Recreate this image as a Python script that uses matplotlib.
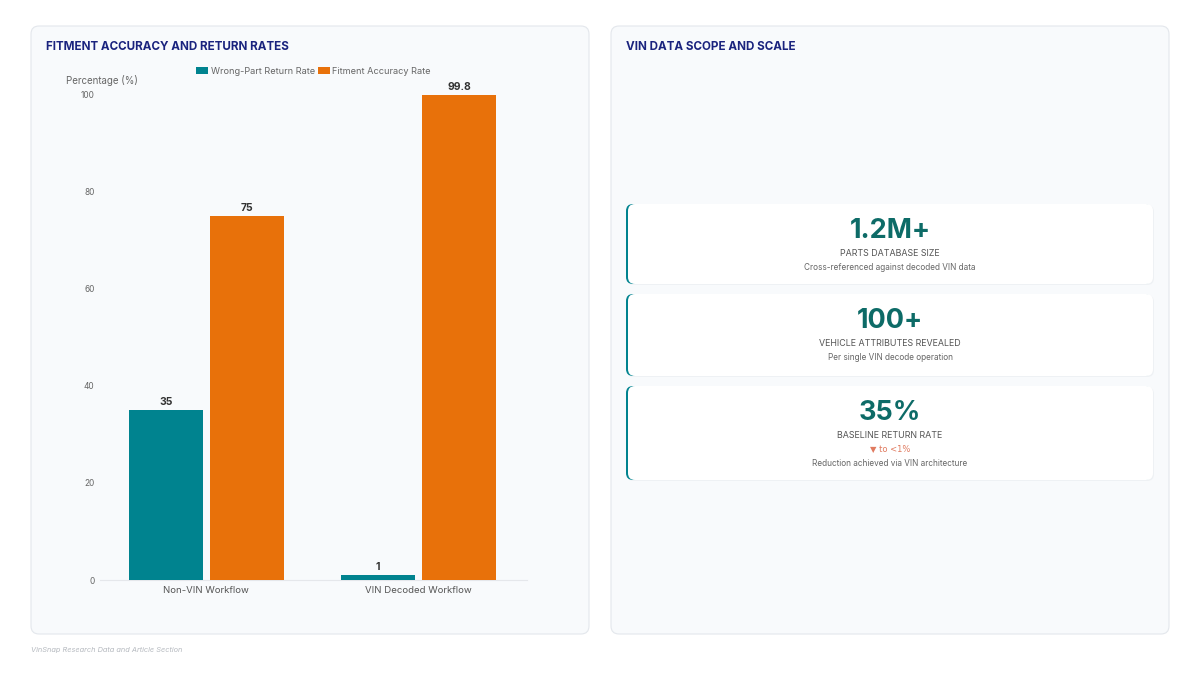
import matplotlib.pyplot as plt
from matplotlib.patches import FancyBboxPatch, Patch

## Datos del gráfico
categorias = ["Non-VIN Workflow", "VIN Decoded Workflow"]
retorno = [35, 1]            # Wrong-Part Return Rate
precision = [75, 99.8]       # Fitment Accuracy Rate
series = ["Wrong-Part Return Rate", "Fitment Accuracy Rate"]
y_ticks = [0, 20, 40, 60, 80, 100]

kpi_valores = ["1.2M+", "100+", "35%"]
kpi_titulos = ["PARTS DATABASE SIZE", "VEHICLE ATTRIBUTES REVEALED", "BASELINE RETURN RATE"]
kpi_cambio = [None, None, "▼ to <1%"]
kpi_notas = ["Cross-referenced against decoded VIN data",
             "Per single VIN decode operation",
             "Reduction achieved via VIN architecture"]

TEAL = "#00838f"
ORANGE = "#e8710a"
NAVY = "#1a237e"
KPI_COLOR = "#0d6b67"

plt.rcParams["font.family"] = ["Inter", "DejaVu Sans"]

fig = plt.figure(figsize=(12, 6.75), dpi=100)
fig.patch.set_facecolor("white")

# Fondo en coordenadas de pixel
bg = fig.add_axes([0, 0, 1, 1], zorder=0)
bg.set_xlim(0, 1200)
bg.set_ylim(675, 0)
bg.axis("off")

for x0 in (31, 611):
    bg.add_patch(FancyBboxPatch((x0, 26), 558, 608, boxstyle="round,pad=0,rounding_size=8",
                                facecolor="#f8fafc", edgecolor="#e3e7ec", linewidth=0.8))

bg.text(46, 47, "FITMENT ACCURACY AND RETURN RATES", fontsize=8.4, fontweight="bold",
        color=NAVY, va="center", ha="left")
bg.text(626, 47, "VIN DATA SCOPE AND SCALE", fontsize=8.4, fontweight="bold",
        color=NAVY, va="center", ha="left")
bg.text(31, 650, "VinSnap Research Data and Article Section", fontsize=5.3, style="italic",
        color="#b5b9bf", va="center", ha="left")
bg.text(66, 80, "Percentage (%)", fontsize=7, color="#666666", va="center", ha="left")

# Tarjetas KPI
tarjetas = [(204, 80), (294, 82), (386, 94)]
for i, (top, h) in enumerate(tarjetas):
    bg.add_patch(FancyBboxPatch((627, top + 1), 527, h, boxstyle="round,pad=0,rounding_size=7",
                                facecolor="#eef1f4", edgecolor="none"))
    bg.add_patch(FancyBboxPatch((626, top), 525, h, boxstyle="round,pad=0,rounding_size=7",
                                facecolor=TEAL, edgecolor="none"))
    bg.add_patch(FancyBboxPatch((628, top), 525, h, boxstyle="round,pad=0,rounding_size=7",
                                facecolor="white", edgecolor="none"))
    cx = 890
    bg.text(cx, top + 27, kpi_valores[i], fontsize=19.5, fontweight="bold", color=KPI_COLOR,
            ha="center", va="center")
    bg.text(cx, top + 49, kpi_titulos[i], fontsize=6.4, color="#555555", ha="center", va="center")
    y_nota = top + 63
    if kpi_cambio[i]:
        bg.text(cx, top + 63, kpi_cambio[i], fontsize=6, color="#e07a5f",
                ha="center", va="center", family=["DejaVu Sans"])
        y_nota = top + 77
    bg.text(cx, y_nota, kpi_notas[i], fontsize=5.9, color="#666666", ha="center", va="center")

# Gráfico de barras
ax = fig.add_axes([100 / 1200, (675 - 580) / 675, 427 / 1200, 486 / 675], zorder=2)
ax.set_facecolor("none")
x = list(range(len(categorias)))
ancho = 0.35
off = 0.191
b1 = ax.bar([v - off for v in x], retorno, width=ancho, color=TEAL, zorder=3)
b2 = ax.bar([v + off for v in x], precision, width=ancho, color=ORANGE, zorder=3)
for barras in (b1, b2):
    for b in barras:
        val = b.get_height()
        txt = f"{val:g}"
        ax.annotate(txt, (b.get_x() + b.get_width() / 2, val), xytext=(0, 2),
                    textcoords="offset points", ha="center", va="bottom",
                    fontsize=7.5, fontweight="bold", color="#333333", clip_on=False)

ax.set_xlim(-0.502, 1.512)
ax.set_ylim(0, 100)
ax.set_xticks(x)
ax.set_xticklabels(categorias, fontsize=6.9, color="#555555")
ax.set_yticks(y_ticks)
ax.set_yticklabels([str(t) for t in y_ticks], fontsize=6, color="#666666")
ax.tick_params(axis="both", length=0)
ax.tick_params(axis="x", pad=4)
ax.tick_params(axis="y", pad=4)
for s in ("top", "right", "left"):
    ax.spines[s].set_visible(False)
ax.spines["bottom"].set_color("#e5e7eb")
ax.spines["bottom"].set_linewidth(0.8)

handles = [Patch(facecolor=TEAL, label=series[0]), Patch(facecolor=ORANGE, label=series[1])]
ax.legend(handles=handles, loc="center", bbox_to_anchor=(0.5, 1.047), ncol=2, frameon=False,
          fontsize=6.6, handlelength=1.3, handleheight=0.9, columnspacing=0.3, handletextpad=0.3,
          labelcolor="#666666")

fig.savefig("out.png", dpi=100)
